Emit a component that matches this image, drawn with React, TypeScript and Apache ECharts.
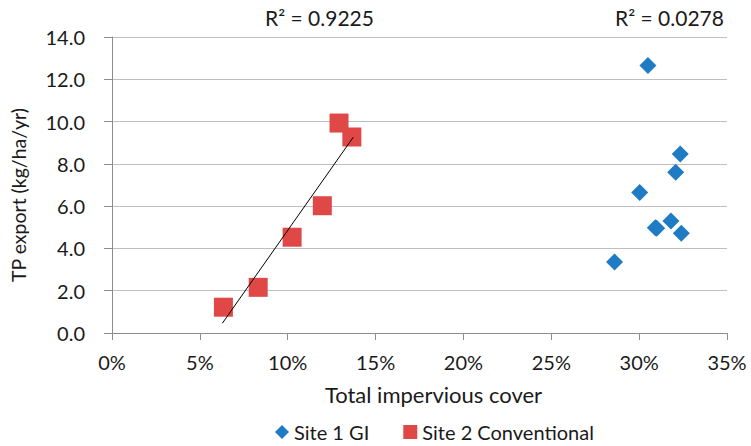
import React, { useEffect, useRef } from "react";
import * as echarts from "echarts";

const site1X = [30.5, 32.34, 32.08, 30.03, 30.92, 31.0, 31.81, 32.4, 28.6];
const site1Y = [12.65, 8.47, 7.6, 6.64, 4.98, 4.95, 5.3, 4.72, 3.36];
const site2X = [12.92, 13.65, 11.97, 10.25, 8.32, 6.34];
const site2Y = [9.93, 9.27, 6.02, 4.53, 2.16, 1.22];
const trendX = [6.28, 13.73];
const trendY = [0.46, 9.26];
const r2Labels = ["R² = 0.9225", "R² = 0.0278"];
const seriesNames = ["Site 1 GI", "Site 2 Conventional"];

const FONT = "Lato, 'Liberation Sans', sans-serif";
const TXT = "#1a1a1a";

export default function App() {
  const ref = useRef<HTMLDivElement>(null);
  useEffect(() => {
    if (!ref.current) return;
    const chart = echarts.init(ref.current, null, { renderer: "svg" });
    chart.setOption({
      animation: false,
      backgroundColor: "#fff",
      textStyle: { fontFamily: FONT, color: TXT },
      grid: { left: 109, right: 24, top: 37, bottom: 113 },
      xAxis: {
        type: "value",
        min: 0,
        max: 35,
        interval: 5,
        name: "Total impervious cover",
        nameLocation: "middle",
        nameGap: 50,
        nameTextStyle: { fontSize: 22, color: TXT, fontFamily: FONT, padding: [0, 0, 0, 28] },
        axisLine: { show: true, lineStyle: { color: "#8c8c8c" } },
        axisTick: { show: true, length: 7, lineStyle: { color: "#8c8c8c" } },
        axisLabel: { fontSize: 20, color: TXT, margin: 19, formatter: (v: number) => `${v}%` },
        splitLine: { show: false },
      },
      yAxis: {
        type: "value",
        min: 0,
        max: 14,
        interval: 2,
        name: "TP export (kg/ha/yr)",
        nameLocation: "middle",
        nameGap: 84,
        nameTextStyle: { fontSize: 19.5, color: TXT, fontFamily: FONT, padding: [0, 20, 0, 0] },
        axisLine: { show: true, lineStyle: { color: "#8c8c8c" } },
        axisTick: { show: true, length: 8, lineStyle: { color: "#8c8c8c" } },
        axisLabel: { fontSize: 20, color: TXT, margin: 27, formatter: (v: number) => v.toFixed(1) },
        splitLine: { show: true, lineStyle: { color: "#bfbfbf", width: 1 } },
      },
      legend: {
        data: [
          { name: seriesNames[0], icon: "diamond" },
          { name: seriesNames[1], icon: "rect" },
        ],
        left: 270,
        top: 417,
        padding: 5,
        itemWidth: 14,
        itemHeight: 14,
        itemGap: 34,
        textStyle: { fontSize: 20, color: TXT, fontFamily: FONT },
      },
      graphic: [
        { type: "text", x: 265, y: 17, style: { text: r2Labels[0], fontSize: 21, fill: TXT, fontFamily: FONT, textAlign: "left", textVerticalAlign: "middle" } },
        { type: "text", x: 615, y: 17, style: { text: r2Labels[1], fontSize: 21, fill: TXT, fontFamily: FONT, textAlign: "left", textVerticalAlign: "middle" } },
      ],
      series: [
        {
          name: seriesNames[0],
          type: "scatter",
          symbol: "diamond",
          symbolSize: [17, 17],
          itemStyle: { color: "#1e7bc4", opacity: 1 },
          data: site1X.map((x, i) => [x, site1Y[i]]),
          z: 3,
        },
        {
          name: seriesNames[1],
          type: "scatter",
          symbol: "rect",
          symbolSize: 19,
          itemStyle: { color: "#e04848", opacity: 1 },
          data: site2X.map((x, i) => [x, site2Y[i]]),
          z: 2,
        },
        {
          name: "trend",
          type: "line",
          showSymbol: false,
          symbol: "none",
          lineStyle: { color: "#000", width: 1 },
          data: trendX.map((x, i) => [x, trendY[i]]),
          z: 4,
        },
      ],
    });
    return () => chart.dispose();
  }, []);
  return <div ref={ref} style={{ width: 751, height: 446, position: "absolute", left: 0, top: 0 }} />;
}
